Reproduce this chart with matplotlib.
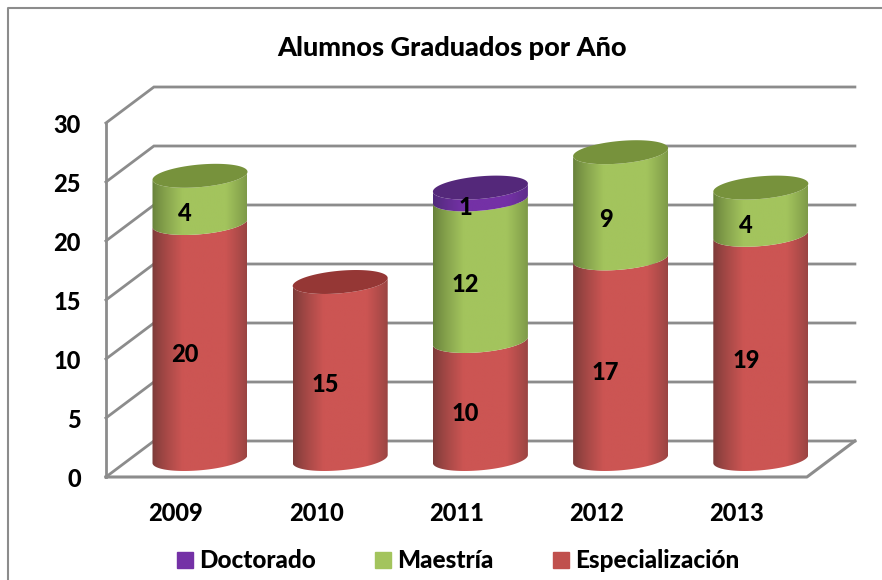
import matplotlib
matplotlib.use("Agg")
import matplotlib.pyplot as plt
from matplotlib.colors import to_rgb
from matplotlib.patches import Patch, Polygon
import numpy as np

# values
years = ["2009", "2010", "2011", "2012", "2013"]
especializacion = [20, 15, 10, 17, 19]
maestria = [4, 0, 12, 9, 4]
doctorado = [0, 0, 1, 0, 0]
yticks = [0, 5, 10, 15, 20, 25, 30]

W, H = 882, 580
pxX = 140.2  # pixels per category
pxY = 11.8   # pixels per unit of value
depthX = 48 / pxX
depthY = 36 / pxY
halfW = 47.5 / pxX
ellA = 11.3 / pxY  # half height of the cylinder ellipse
ellS = 4 / pxY     # tilt of the ellipse

# colours: edge, middle of the cylinder, cap
redC = ("#7a3a38", "#cc5553", "#953735")
greenC = ("#667f3a", "#a3c45d", "#77923c")
purpleC = ("#4f2a78", "#7431a6", "#54287a")
gridC = "#8c8c8c"

plt.rcParams["font.family"] = ["Lato", "DejaVu Sans"]

fig = plt.figure(figsize=(W / 100, H / 100), dpi=100)
ax = fig.add_axes([0, 0, 1, 1])
ax.axis("off")

# chart frame, only left and top show
fig.add_artist(plt.Line2D([8 / W, 8 / W, 1], [0, 1 - 7.5 / H, 1 - 7.5 / H], color=gridC, lw=1.5))

x0, x1 = -0.5, len(years) - 0.5

# walls and floor
for v in yticks:
    ax.plot([x0, x0 + depthX, x1 + depthX], [v, v + depthY, v + depthY], color=gridC, lw=2, zorder=1, solid_joinstyle="miter")
ax.plot([x0, x0], [0, 30], color=gridC, lw=2, zorder=1)
ax.plot([x0, x1, x1 + depthX], [0, 0, depthY], color=gridC, lw=2.2, zorder=1)

gradX = np.linspace(0, 1, 200)


def cylGradient(c):
    edge = np.array(to_rgb(c[0]))
    mid = np.array(to_rgb(c[1]))
    t = 1 - np.abs(gradX - 0.55) / 0.55
    t = np.clip(t * 1.7, 0, 1) ** 0.8
    return (edge[None, :] * (1 - t[:, None]) + mid[None, :] * t[:, None])[None, :, :]


def segment(cx, lo, hi, c, z):
    t = np.linspace(np.pi, 2 * np.pi, 60)
    xs = cx + halfW * np.cos(t)
    # front curve of the ellipse, tilted upward to the right
    lowY = lo + depthY / 2 + ellA * np.sin(t) + ellS * np.cos(t)
    highY = hi + depthY / 2 + ellA * np.sin(t) + ellS * np.cos(t)
    pts = np.column_stack([np.r_[xs, xs[::-1]], np.r_[lowY, highY[::-1]]])
    poly = Polygon(pts, closed=True, fc="none", ec="none")
    ax.add_patch(poly)
    im = ax.imshow(cylGradient(c), extent=[cx - halfW, cx + halfW, lo - 2, hi + depthY + 2], aspect="auto", zorder=z, interpolation="bilinear")
    im.set_clip_path(poly)


def cap(cx, top, c, z):
    t = np.linspace(0, 2 * np.pi, 120)
    xs = cx + halfW * np.cos(t)
    ys = top + depthY / 2 + ellA * np.sin(t) + ellS * np.cos(t)
    ax.add_patch(Polygon(np.column_stack([xs, ys]), closed=True, fc=c, ec="none", zorder=z))


for i in range(len(years)):
    cx = i + depthX / 2
    base = 0
    z = 3 + i
    topC = redC
    for vals, c in ((especializacion, redC), (maestria, greenC), (doctorado, purpleC)):
        if vals[i] > 0:
            segment(cx, base, base + vals[i], c, z)
            base += vals[i]
            topC = c
            z += 0.01
    cap(cx, base, topC[2], z + 0.01)

ax.set_xlim(-176 / pxX, (W - 176) / pxX)
ax.set_ylim((477 - H) / pxY, 477 / pxY)

# data labels
lblX = 9 / pxX
for i in range(len(years)):
    base = 0
    for vals in (especializacion, maestria, doctorado):
        if vals[i] > 0:
            ax.text(i + lblX, base + vals[i] / 2 + 0.35, str(vals[i]), ha="center", va="center", fontsize=17, color="black", fontweight=900, zorder=20)
            base += vals[i]

# axis labels
for v in yticks:
    ax.text(x0 - 25 / pxX, v - 0.2, str(v), ha="right", va="center", fontsize=17, fontweight=900, zorder=20)
for i, y in enumerate(years):
    ax.text(i, -3.1, y, ha="center", va="center", fontsize=17, fontweight=900, zorder=20)

fig.text(452 / W, 1 - 48 / H, "Alumnos Graduados por Año", ha="center", va="center", fontsize=19.5, fontweight=900)

handles = [Patch(color=purpleC[1], label="Doctorado"), Patch(color=greenC[1], label="Maestría"), Patch(color="#c0504d", label="Especialización")]
fig.legend(handles=handles, loc="center", bbox_to_anchor=(458 / W, 1 - 561 / H), ncol=3, frameon=False, prop={"size": 17.5, "weight": 900}, handlelength=0.66, handleheight=0.66, handletextpad=0.25, columnspacing=2.45)

fig.savefig("out.png", dpi=100)
